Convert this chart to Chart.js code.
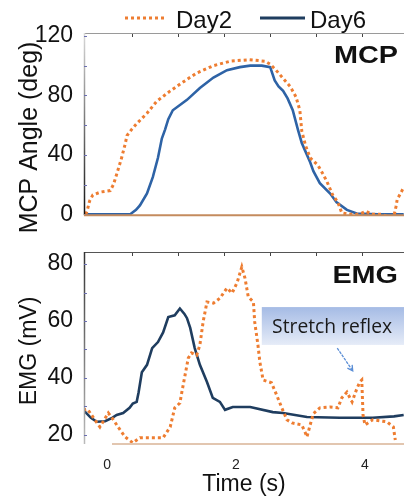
<!DOCTYPE html>
<html>
<head>
<meta charset="utf-8">
<script src="https://cdn.jsdelivr.net/npm/chart.js@4.4.1/dist/chart.umd.min.js"></script>
<style>
    html, body { margin: 0; padding: 0; background: #fff; }
    #wrap { position: relative; width: 404px; height: 499px; overflow: hidden; }
    canvas { position: absolute; left: 0; }
    #mcp { top: 0; }
    #emg { top: 232px; }
</style>
</head>
<body>
<div id="wrap">
    <canvas id="mcp" width="404" height="232"></canvas>
    <canvas id="emg" width="404" height="267"></canvas>
</div>
<script>
/* ─── Data ───────────────────────────────────── */
const seriesNames = ['Day2', 'Day6'];

const mcpDay2Time  = [-0.33, -0.31, -0.27, -0.22, -0.1, 0.05, 0.1, 0.15, 0.22, 0.28, 0.31, 0.38, 0.46, 0.62, 0.77, 0.98, 1.18, 1.39, 1.65, 1.91, 2.2, 2.45, 2.53, 2.62, 2.68, 2.84, 2.93, 2.99, 3.02, 3.08, 3.15, 3.27, 3.35, 3.41, 3.5, 3.58, 3.64, 3.75, 3.9, 4.02, 4.1, 4.25, 4.39, 4.45, 4.48, 4.5, 4.55, 4.6];
const mcpDay2Angle = [0, 2, 9, 13, 15, 16, 20, 27, 37, 47, 53, 57, 61, 68, 76, 83, 89, 95, 100, 103, 104, 103, 101, 97, 94, 86, 79, 70, 56, 46, 38, 33, 27, 22, 13, 8, 1, 0, 0, 2, 0, 0, -2, -1, 5, 10, 14, 18];

const mcpDay6Time  = [-0.36, 0.36, 0.45, 0.51, 0.62, 0.71, 0.79, 0.85, 0.9, 0.95, 1.02, 1.24, 1.44, 1.65, 1.86, 2.06, 2.22, 2.4, 2.53, 2.6, 2.66, 2.73, 2.8, 2.88, 2.96, 3.02, 3.08, 3.15, 3.2, 3.3, 3.46, 3.56, 3.72, 3.87, 4.2, 4.6];
const mcpDay6Angle = [0, 0, 3, 6, 14, 25, 38, 51, 57, 64, 70, 77, 85, 92, 97, 99, 100, 100, 99, 90, 86, 83, 78, 70, 57, 48, 42, 35, 29, 21, 14, 8, 3, 0.5, 0, 0];

const emgDay2Time  = [-0.37, -0.3, -0.19, -0.11, 0.02, 0.1, 0.17, 0.28, 0.4, 0.51, 0.72, 0.87, 0.98, 1.05, 1.13, 1.16, 1.21, 1.26, 1.31, 1.39, 1.44, 1.49, 1.55, 1.65, 1.75, 1.86, 1.94, 2.02, 2.09, 2.14, 2.19, 2.27, 2.29, 2.34, 2.37, 2.42, 2.55, 2.63, 2.71, 2.79, 2.87, 3.02, 3.07, 3.1, 3.15, 3.2, 3.3, 3.46, 3.58, 3.64, 3.72, 3.8, 3.87, 3.92, 3.95, 3.97, 4.0, 4.12, 4.34, 4.44, 4.47];
const emgDay2Volt  = [28.8, 29, 25.3, 22.8, 27.7, 25.3, 22.8, 19.3, 17.2, 19, 19, 19, 22.8, 29.5, 31.2, 35, 41, 47, 48.8, 48, 51.6, 59.7, 66.7, 66.3, 68, 71.6, 69.8, 73.7, 79, 75, 68.5, 66.7, 59.7, 51.6, 45.6, 39.3, 38.3, 34, 29.5, 25.3, 24.2, 23.5, 21, 19.3, 23.5, 27.5, 29.5, 29.8, 29.5, 33, 35, 31.6, 36, 38.6, 39.3, 27, 23.5, 25.3, 24.6, 22.8, 18.2];

const emgDay6Time  = [-0.37, -0.25, -0.16, -0.03, 0.08, 0.15, 0.25, 0.35, 0.4, 0.46, 0.49, 0.54, 0.62, 0.7, 0.79, 0.87, 0.95, 1.05, 1.13, 1.2, 1.24, 1.29, 1.36, 1.44, 1.55, 1.64, 1.75, 1.83, 1.95, 2.22, 2.57, 2.73, 3.1, 3.61, 4.12, 4.45, 4.6];
const emgDay6Volt  = [28.8, 26, 24.6, 24.8, 26, 27, 27.7, 29.5, 31, 31.6, 35, 42, 44.6, 50.5, 52.6, 56, 61.4, 62, 64.4, 62.5, 61, 57.6, 50.5, 44.6, 38.6, 33, 31.6, 28.8, 29.8, 29.8, 28, 27.7, 26.3, 26, 26, 26.5, 27];

const timeTicks    = [0, 2, 4];
const topTickTimes = [0.39, 1.1, 1.81, 2.52, 3.24, 3.95];
const mcpTicks     = [0, 40, 80, 120];
const emgTicks     = [20, 40, 60, 80];

/* ─── Styles ─────────────────────────────────── */
const day2Color    = '#ee7d31';
const day6Color    = '#1f3d5f';
const day6ColorMcp = '#2e63a6';
const fontFamily   = "'Liberation Sans', Arial, sans-serif";
const tMin = -0.357, tMax = 4.605;

function toPoints(times, values) {
    return times.map((t, i) => ({ x: t, y: values[i] }));
}

function lineDataset(label, times, values, color, dotted) {
    return {
        label: label,
        data: toPoints(times, values),
        borderColor: color,
        borderWidth: dotted ? 3 : 2.6,
        borderDash: dotted ? [3, 3] : [],
        borderCapStyle: 'butt',
        pointRadius: 0,
        tension: 0,
        fill: false
    };
}

function yScale(min, max, ticks) {
    return {
        type: 'linear', min: min, max: max,
        afterBuildTicks: s => { s.ticks = ticks.map(v => ({ value: v })); },
        afterFit: s => { s.width = 84; },
        grid: { display: false },
        border: { display: false },
        ticks: { padding: 3, color: '#111', font: { family: fontFamily, size: 23 } }
    };
}

/* ─── Frame: axes lines, inward ticks, labels ─ */
function drawFrame(chart, o) {
    const { ctx, chartArea: a, scales } = chart;
    const x = scales.x, y = scales.y;
    ctx.save();
    ctx.lineWidth = 1;
    // top border with ticks
    ctx.strokeStyle = o.topColor;
    ctx.beginPath(); ctx.moveTo(a.left, a.top - 0.5); ctx.lineTo(a.right, a.top - 0.5); ctx.stroke();
    ctx.strokeStyle = '#444';
    topTickTimes.forEach(t => {
        const px = Math.round(x.getPixelForValue(t)) + 0.5;
        ctx.beginPath(); ctx.moveTo(px, a.top); ctx.lineTo(px, a.top + 3); ctx.stroke();
    });
    // left axis
    const g = ctx.createLinearGradient(0, a.top, 0, a.bottom);
    g.addColorStop(0, o.leftTop);
    g.addColorStop(1, o.leftBottom);
    ctx.strokeStyle = g;
    ctx.lineWidth = 1.5;
    ctx.beginPath(); ctx.moveTo(a.left + 0.5, a.top - 1); ctx.lineTo(a.left + 0.5, a.bottom); ctx.stroke();
    // minor ticks pointing inward
    ctx.lineWidth = 1;
    ctx.strokeStyle = '#6b6fb0';
    for (let v = o.minorFrom; v <= y.max; v += o.minorStep) {
        const py = Math.round(y.getPixelForValue(v)) + 0.5;
        ctx.beginPath(); ctx.moveTo(a.left, py); ctx.lineTo(a.left + 3, py); ctx.stroke();
    }
    // bottom border
    ctx.strokeStyle = o.bottomColor;
    ctx.lineWidth = o.bottomWidth;
    ctx.beginPath(); ctx.moveTo(a.left + o.bottomInset, a.bottom); ctx.lineTo(a.right, a.bottom); ctx.stroke();
    // y title
    ctx.fillStyle = '#111';
    ctx.font = o.titleSize + 'px ' + fontFamily;
    ctx.textAlign = 'center';
    ctx.textBaseline = 'middle';
    ctx.save();
    ctx.translate(30, o.titleY);
    ctx.rotate(-Math.PI / 2);
    ctx.fillText(o.title, 0, 0);
    ctx.restore();
    // panel label
    ctx.save();
    ctx.font = 'bold 24px ' + fontFamily;
    ctx.textAlign = 'right';
    ctx.textBaseline = 'alphabetic';
    ctx.translate(a.right - 6, a.top + o.labelDy);
    ctx.scale(1.2, 1);
    ctx.fillText(o.label, 0, 0);
    ctx.restore();
    ctx.restore();
}

const legendPlugin = {
    id: 'topLegend',
    afterDraw(chart) {
        const ctx = chart.ctx;
        const ds = chart.data.datasets;
        const items = [{ x0: 125, x1: 167, tx: 176 }, { x0: 260, x1: 305, tx: 310 }];
        ctx.save();
        items.forEach((it, i) => {
            ctx.strokeStyle = i === 0 ? day2Color : day6Color;
            ctx.lineWidth = 3;
            ctx.setLineDash(ds[i].borderDash || []);
            ctx.beginPath(); ctx.moveTo(it.x0, 18); ctx.lineTo(it.x1, 18); ctx.stroke();
            ctx.setLineDash([]);
            ctx.fillStyle = '#111';
            ctx.font = '24px ' + fontFamily;
            ctx.textBaseline = 'alphabetic';
            ctx.fillText(ds[i].label, it.tx, 28);
        });
        ctx.restore();
    }
};

const mcpFrame = {
    id: 'mcpFrame',
    afterDraw(chart) {
        drawFrame(chart, {
            topColor: '#9a9a9a', leftTop: '#d8d8d8', leftBottom: '#111',
            minorFrom: 0, minorStep: 20,
            bottomColor: '#c48b5e', bottomWidth: 2, bottomInset: 0,
            title: 'MCP Angle (deg)', titleSize: 25, titleY: 137.5,
            label: 'MCP', labelDy: 29
        });
    }
};

const emgFrame = {
    id: 'emgFrame',
    afterDraw(chart) {
        drawFrame(chart, {
            topColor: '#555', leftTop: '#333', leftBottom: '#bbb',
            minorFrom: 20, minorStep: 10,
            bottomColor: '#e2c6b0', bottomWidth: 2, bottomInset: 28,
            title: 'EMG (mV)', titleSize: 23, titleY: 119,
            label: 'EMG', labelDy: 30
        });
        // "Stretch reflex" callout
        const { ctx, scales } = chart;
        const x = scales.x, y = scales.y;
        const bx = x.getPixelForValue(2.4), by = y.getPixelForValue(64.9);
        const bh = y.getPixelForValue(51.6) - by;
        ctx.save();
        const g = ctx.createLinearGradient(0, by, 0, by + bh);
        g.addColorStop(0, '#a5bbe5');
        g.addColorStop(1, '#e6ecf8');
        ctx.fillStyle = g;
        ctx.fillRect(bx, by, chart.width - bx, bh);
        ctx.fillStyle = '#1a1a1a';
        ctx.font = '20px "Open Sans", sans-serif';
        ctx.textBaseline = 'alphabetic';
        ctx.fillText('Stretch reflex', x.getPixelForValue(2.56), by + 26, 120);
        // arrow
        const x0 = x.getPixelForValue(3.57), y0 = y.getPixelForValue(50.5);
        const x1 = x.getPixelForValue(3.81), y1 = y.getPixelForValue(42.5);
        const ang = Math.atan2(y1 - y0, x1 - x0);
        ctx.strokeStyle = '#5b8ed6';
        ctx.lineWidth = 1.3;
        ctx.setLineDash([3, 1]);
        ctx.beginPath(); ctx.moveTo(x0, y0); ctx.lineTo(x1, y1); ctx.stroke();
        ctx.setLineDash([]);
        ctx.beginPath();
        ctx.moveTo(x1 - 6 * Math.cos(ang - 0.5), y1 - 6 * Math.sin(ang - 0.5));
        ctx.lineTo(x1, y1);
        ctx.lineTo(x1 - 6 * Math.cos(ang + 0.5), y1 - 6 * Math.sin(ang + 0.5));
        ctx.stroke();
        ctx.restore();
    }
};

/* ─── MCP Chart ──────────────────────────────── */
new Chart(document.getElementById('mcp').getContext('2d'), {
    type: 'line',
    data: {
        datasets: [
            lineDataset(seriesNames[0], mcpDay2Time, mcpDay2Angle, day2Color, true),
            lineDataset(seriesNames[1], mcpDay6Time, mcpDay6Angle, day6ColorMcp, false)
        ]
    },
    options: {
        responsive: false,
        animation: false,
        layout: { padding: { top: 34, bottom: 9, left: 0, right: 0 } },
        plugins: { legend: { display: false }, tooltip: { enabled: false } },
        scales: {
            x: { type: 'linear', min: tMin, max: tMax, display: false },
            y: yScale(-0.6, 121.3, mcpTicks)
        }
    },
    plugins: [mcpFrame, legendPlugin]
});

/* ─── EMG Chart ──────────────────────────────── */
new Chart(document.getElementById('emg').getContext('2d'), {
    type: 'line',
    data: {
        datasets: [
            lineDataset(seriesNames[0], emgDay2Time, emgDay2Volt, day2Color, true),
            lineDataset(seriesNames[1], emgDay6Time, emgDay6Volt, day6Color, false)
        ]
    },
    options: {
        responsive: false,
        animation: false,
        layout: { padding: { top: 21, bottom: 0, left: 0, right: 0 } },
        plugins: { legend: { display: false }, tooltip: { enabled: false } },
        scales: {
            x: {
                type: 'linear', min: tMin, max: tMax,
                afterBuildTicks: s => { s.ticks = timeTicks.map(v => ({ value: v })); },
                afterFit: s => { s.height = 55; },
                grid: { display: false },
                border: { display: false },
                ticks: { padding: 5, color: '#222', maxRotation: 0, autoSkip: false, font: { family: fontFamily, size: 14 } },
                title: { display: true, text: 'Time (s)', color: '#111', padding: { top: 0, bottom: 1 }, font: { family: fontFamily, size: 23 } }
            },
            y: yScale(16.8, 83.9, emgTicks)
        }
    },
    plugins: [emgFrame]
});
</script>
</body>
</html>
